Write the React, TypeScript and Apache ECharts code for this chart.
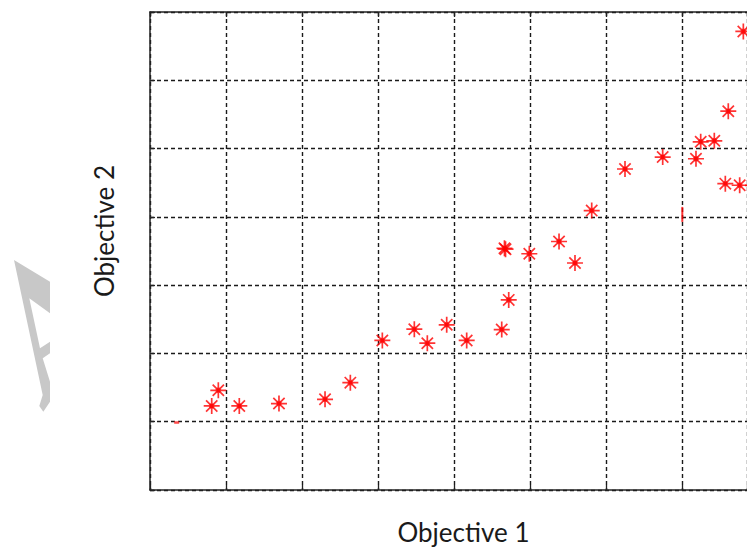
import React, { useEffect, useRef } from "react";
import * as echarts from "echarts";

const xTicks = [0, 1, 2, 3, 4, 5, 6, 7];
const yTicks = [0, 1, 2, 3, 4, 5, 6, 7];
const xLabel = "Objective 1";
const yLabel = "Objective 2";

// Objective 1 values of the asterisk points
const obj1 = [
  0.812, 0.899, 1.175, 1.697, 2.303, 2.636, 3.057, 3.478, 3.649, 3.904, 4.167,
  4.628, 4.72, 4.664, 4.678, 4.991, 5.382, 5.592, 5.812, 6.25, 6.746, 7.184,
  7.246, 7.425, 7.609, 7.57, 7.759, 7.807, 7.934,
];
// Objective 2 values of the asterisk points
const obj2 = [
  1.231, 1.46, 1.231, 1.266, 1.328, 1.572, 2.19, 2.355, 2.15, 2.419, 2.19,
  2.35, 2.784, 3.54, 3.526, 3.46, 3.639, 3.324, 4.092, 4.701, 4.876, 4.851,
  5.099, 5.114, 5.547, 4.486, 4.463, 6.715, 4.46,
];
// partially drawn markers
const partialBar = [[7.004, 4.036]];
const partialDot = [[0.351, 0.988]];

const XMAX = 597 / 76;

const star =
  "path://M7,0 L7,14 M0,7 L14,7 M2.05,2.05 L11.95,11.95 M2.05,11.95 L11.95,2.05 M5.3,5.3 L8.7,5.3 L8.7,8.7 L5.3,8.7 Z";

export default function App() {
  const ref = useRef<HTMLDivElement>(null);
  useEffect(() => {
    document.body.style.margin = "0";
    const chart = echarts.init(ref.current!, null, { renderer: "svg" });
    const axisLine = { show: true, lineStyle: { color: "#222", width: 1.5 } };
    const tick = { show: true, inside: true, length: 5, lineStyle: { color: "#222", width: 1.3 } };
    const split = { show: true, lineStyle: { color: "#1a1a1a", width: 1.4, type: [4, 3] as any } };
    const nameStyle = { fontFamily: "Lato", fontSize: 26, color: "#1a1a1a" };
    const points = obj1.map((x, i) => [x, obj2[i]]);
    chart.setOption({
      animation: false,
      backgroundColor: "#fff",
      grid: { left: 150, top: 12, right: 0, bottom: 59, containLabel: false },
      graphic: [
        {
          type: "polygon",
          shape: {
            points: [
              [14, 260], [50, 281.7], [50, 313.3], [29.3, 298.3], [40, 348.3],
              [50, 341.7], [50, 353.3], [42.7, 358.3], [50, 381.7], [50, 401.7],
              [43.3, 411.7], [39.3, 406], [42.7, 395],
            ],
          },
          style: { fill: "#c8c8c8" },
          silent: true,
        },
      ],
      xAxis: [
        {
          type: "value",
          position: "bottom",
          min: xTicks[0],
          max: XMAX,
          interval: 1,
          axisLine,
          axisTick: tick,
          axisLabel: { show: false },
          splitLine: split,
          name: xLabel,
          nameLocation: "middle",
          nameGap: 29,
          nameTextStyle: { ...nameStyle, padding: [0, 0, 0, 30] },
        },
        {
          type: "value",
          position: "top",
          min: xTicks[0],
          max: XMAX,
          interval: 1,
          axisLine,
          axisTick: tick,
          axisLabel: { show: false },
          splitLine: { show: false },
        },
      ],
      yAxis: [
        {
          type: "value",
          min: yTicks[0],
          max: yTicks[yTicks.length - 1],
          interval: 1,
          axisLine,
          axisTick: tick,
          axisLabel: { show: false },
          splitLine: split,
          name: yLabel,
          nameLocation: "middle",
          nameGap: 33,
          nameRotate: 90,
          nameTextStyle: { ...nameStyle, padding: [0, 0, 0, 40] },
        },
      ],
      series: [
        {
          type: "scatter",
          data: points,
          symbol: star,
          symbolSize: 16,
          clip: false,
          itemStyle: { color: "#ff0000", borderColor: "#ff0000", borderWidth: 1.7 },
        },
        {
          type: "scatter",
          data: partialBar,
          symbol: "rect",
          symbolSize: [2, 15],
          itemStyle: { color: "#ff0000" },
        },
        {
          type: "scatter",
          data: partialDot,
          symbol: "rect",
          symbolSize: [5, 2.5],
          itemStyle: { color: "#ff2020" },
        },
      ],
    });
    return () => chart.dispose();
  }, []);
  return <div ref={ref} style={{ width: 747, height: 550 }} />;
}
